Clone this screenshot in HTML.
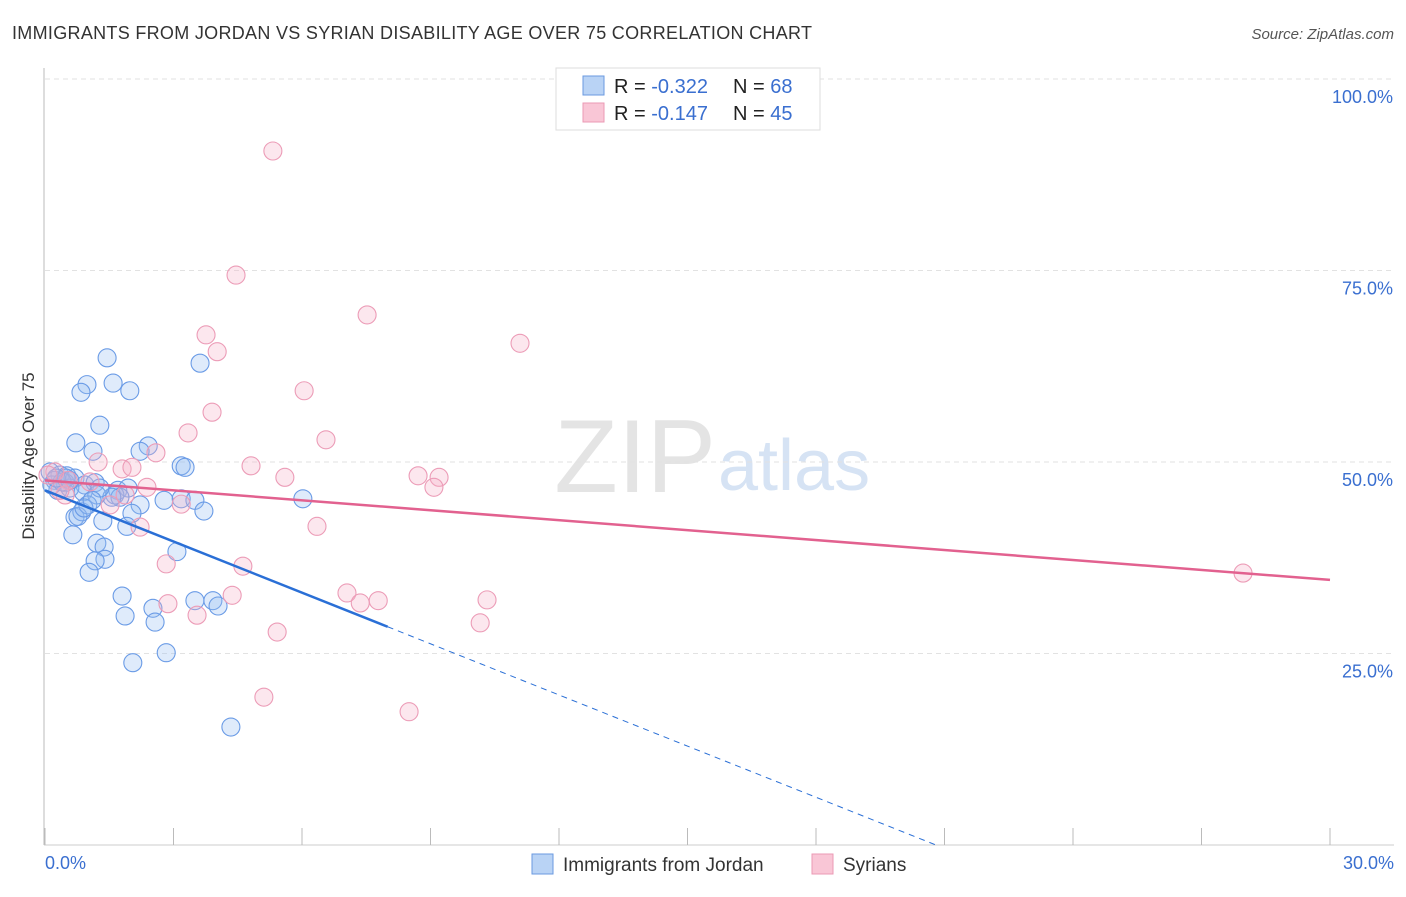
<!DOCTYPE html>
<html><head><meta charset="utf-8">
<style>
body{margin:0;background:#fff;font-family:"Liberation Sans",sans-serif;}
svg text{font-family:"Liberation Sans",sans-serif;}
</style></head>
<body>
<svg id="chart" width="1406" height="892">
<text x="12" y="39" font-size="18" fill="#333" textLength="800">IMMIGRANTS FROM JORDAN VS SYRIAN DISABILITY AGE OVER 75 CORRELATION CHART</text>
<text x="1394" y="39" font-size="15" fill="#555" font-style="italic" text-anchor="end">Source: ZipAtlas.com</text>
<text x="716" y="492" font-size="104" fill="#e4e4e4" text-anchor="end" font-family="Liberation Serif">ZIP</text>
<text x="718" y="490" font-size="72" fill="#d6e3f4">atlas</text>
<g id="grid"></g>
<g id="marks"></g>
<text transform="translate(34,456) rotate(-90)" font-size="17" fill="#333" text-anchor="middle">Disability Age Over 75</text>
<g>
<rect x="556" y="68" width="264" height="62" fill="#fff" stroke="#ddd"/>
<rect x="583" y="76" width="21" height="19" fill="#b9d3f5" stroke="#6a9ae0"/>
<rect x="583" y="103" width="21" height="19" fill="#f9c6d6" stroke="#eb9ab4"/>
<text x="614" y="93" font-size="20" fill="#222">R = <tspan fill="#3a6fd0">-0.322</tspan><tspan x="733">N = </tspan><tspan fill="#3a6fd0">68</tspan></text>
<text x="614" y="120" font-size="20" fill="#222">R = <tspan fill="#3a6fd0"> -0.147</tspan><tspan x="733">N = </tspan><tspan fill="#3a6fd0">45</tspan></text>
</g>
<g>
<rect x="532" y="854" width="21" height="20" fill="#b9d3f5" stroke="#6a9ae0"/>
<text x="563" y="871" font-size="19" fill="#333">Immigrants from Jordan</text>
<rect x="812" y="854" width="21" height="20" fill="#f9c6d6" stroke="#eb9ab4"/>
<text x="843" y="871" font-size="19" fill="#333">Syrians</text>
</g>
</svg>
<script>
const blueX=[1.45,1.59,0.98,0.84,1.98,3.62,1.28,0.72,1.12,2.41,3.18,3.27,0.12,0.35,0.51,0.70,0.23,0.47,0.93,0.30,0.58,0.16,0.40,1.17,1.70,1.94,1.63,0.89,1.21,1.75,2.22,2.78,3.18,3.50,3.71,6.02,0.70,0.86,0.77,1.35,2.03,1.91,0.65,1.21,1.38,1.40,1.17,1.03,3.08,1.80,2.52,1.87,2.57,3.50,3.92,4.04,2.83,2.05,4.34,1.00,0.91,1.56,1.28,0.49,0.26,2.22,1.10,0.58];
const blueY=[63.6,60.3,60.1,59.1,59.3,62.9,54.8,52.5,51.4,52.1,49.5,49.3,48.7,48.3,48.2,47.9,47.6,47.3,47.0,46.3,46.6,47.0,47.4,47.3,46.3,46.6,45.7,46.1,45.7,45.4,44.4,45.0,45.2,45.0,43.6,45.2,42.8,43.5,42.9,42.3,43.3,41.6,40.5,39.4,38.9,37.3,37.1,35.6,38.3,32.5,30.9,29.9,29.1,31.9,31.9,31.2,25.1,23.8,15.4,44.4,44.0,45.4,46.6,47.9,47.9,51.4,45.0,47.6];
const pinkX=[5.32,4.46,7.52,3.76,4.02,11.09,6.05,3.90,3.34,6.56,2.59,1.24,4.81,1.80,2.03,5.60,8.71,9.20,9.08,2.38,0.23,0.07,0.54,1.05,0.47,1.52,2.22,3.18,6.35,2.83,4.62,2.87,3.55,4.37,7.05,7.36,7.78,10.32,10.16,5.42,5.11,8.50,27.97,0.35,1.87];
const pinkY=[90.6,74.4,69.2,66.6,64.4,65.5,59.3,56.5,53.8,52.9,51.2,50.0,49.5,49.1,49.3,48.0,48.2,48.0,46.7,46.7,48.7,48.3,47.6,47.4,45.7,44.4,41.5,44.5,41.6,36.7,36.4,31.5,30.0,32.6,32.9,31.6,31.9,32.0,29.0,27.8,19.3,17.4,35.5,46.3,45.7];
const yTicks=[25,50,75,100];
const xTickLabels=["0.0%","30.0%"];
const blueFit=[46.3,-2.226];
const pinkFit=[47.6,-0.433];

const NS="http://www.w3.org/2000/svg";
const X0=45,X1=1330,Y0=845,Y100=79;
const sx=v=>X0+(v/30)*(X1-X0);
const sy=v=>Y0-(v/100)*(Y0-Y100);
function mk(tag,attrs,parent){const e=document.createElementNS(NS,tag);for(const k in attrs)e.setAttribute(k,attrs[k]);parent.appendChild(e);return e;}
const grid=document.getElementById('grid');
const marks=document.getElementById('marks');
yTicks.forEach(t=>{
  const l=mk('line',{x1:45,x2:1394,y1:sy(t),y2:sy(t),stroke:'#e2e2e2','stroke-dasharray':'5,4'},grid);
  
  
  const tx=mk('text',{x:1393,y:sy(t)+24,'font-size':18,fill:'#3a6fd0','text-anchor':'end'},grid);
  tx.textContent=t.toFixed(1)+'%';
  
  
});
const ax=mk('line',{x1:44,x2:44,y1:68,y2:845,stroke:'#bbb'},grid);


const bx=mk('line',{x1:44,x2:1394,y1:845,y2:845,stroke:'#ccc'},grid);


for(let i=0;i<=10;i++){
  const t=mk('line',{x1:sx(i*3),x2:sx(i*3),y1:828,y2:845,stroke:'#bbb'},grid);
  
  
}
const xl0=mk('text',{x:45,y:869,'font-size':18,fill:'#3a6fd0'},grid);xl0.textContent=xTickLabels[0];


const xl1=mk('text',{x:1394,y:869,'font-size':18,fill:'#3a6fd0','text-anchor':'end'},grid);xl1.textContent=xTickLabels[1];



blueX.forEach((x,i)=>{
  const c=mk('circle',{cx:sx(x),cy:sy(blueY[i]),r:9,fill:'rgba(150,190,242,0.3)',stroke:'#6a9be6','stroke-width':1.1},marks);
  
  
});
pinkX.forEach((x,i)=>{
  const c=mk('circle',{cx:sx(x),cy:sy(pinkY[i]),r:9,fill:'rgba(246,176,200,0.3)',stroke:'#ec9cb7','stroke-width':1.1},marks);
  
  
});
const bEnd=8.0, bZero=-blueFit[0]/blueFit[1];
const bl=mk('line',{x1:sx(0),y1:sy(blueFit[0]),x2:sx(bEnd),y2:sy(blueFit[0]+blueFit[1]*bEnd),stroke:'#2a6fd6','stroke-width':2.5},marks);


const bd=mk('line',{x1:sx(bEnd),y1:sy(blueFit[0]+blueFit[1]*bEnd),x2:sx(bZero),y2:sy(0),stroke:'#2a6fd6','stroke-width':1,'stroke-dasharray':'6,5'},marks);


const pl=mk('line',{x1:sx(0),y1:sy(pinkFit[0]),x2:sx(30),y2:sy(pinkFit[0]+pinkFit[1]*30),stroke:'#e2618f','stroke-width':2.5},marks);


</script>
</body></html>
